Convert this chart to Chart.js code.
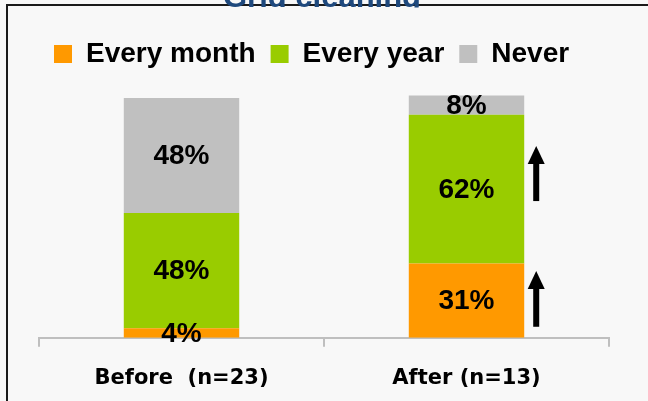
<!DOCTYPE html>
<html>
<head>
<meta charset="utf-8">
<script src="https://cdn.jsdelivr.net/npm/chart.js@4.4.1/dist/chart.umd.min.js"></script>
<style>
  html, body { margin: 0; padding: 0; background: #f8f8f8; }
  #wrap { position: relative; width: 648px; height: 401px; }
</style>
</head>
<body>
<div id="wrap"><canvas id="c" width="648" height="401"></canvas></div>
<script>
const titleText = "Grid cleaning";
const categories = ["Before  (n=23)", "After (n=13)"];
const everyMonth = [4, 31];
const everyYear = [48, 62];
const never = [48, 8];
const seriesNames = ["Every month", "Every year", "Never"];
// arrows: category index and value range (in %)
const arrowCats = [1, 1];
const arrowFrom = [57, 4.6];
const arrowTo = [80, 27.8];

const framePlugin = {
  id: 'frame',
  beforeDraw(chart) {
    const ctx = chart.ctx;
    ctx.save();
    ctx.fillStyle = '#f8f8f8';
    ctx.fillRect(0, 0, chart.width, chart.height);
    ctx.fillStyle = '#1a1a1a';
    ctx.fillRect(6, 4, chart.width - 6, 2);
    ctx.fillRect(6, 4, 2, chart.height - 4);
    // clipped title
    ctx.beginPath();
    ctx.rect(0, 0, chart.width, 7.5);
    ctx.clip();
    ctx.fillStyle = '#1F497D';
    ctx.font = 'bold 31px "Liberation Sans", Arial, sans-serif';
    ctx.textAlign = 'center';
    ctx.textBaseline = 'alphabetic';
    ctx.fillText(titleText, 322, 6.5);
    ctx.restore();
  },
  afterDatasetsDraw(chart) {
    const ctx = chart.ctx;
    ctx.save();
    ctx.fillStyle = '#000';
    ctx.font = 'bold 28px "Liberation Sans", Arial, sans-serif';
    ctx.textAlign = 'center';
    ctx.textBaseline = 'middle';
    chart.data.datasets.forEach((ds, di) => {
      const meta = chart.getDatasetMeta(di);
      meta.data.forEach((el, i) => {
        const p = el.getProps(['x', 'y', 'base'], true);
        ctx.fillText(ds.data[i] + '%', p.x, (p.y + p.base) / 2 + 1);
      });
    });
    // arrows
    const ys = chart.scales.y;
    const meta0 = chart.getDatasetMeta(0);
    arrowCats.forEach((ci, k) => {
      const el = meta0.data[ci];
      const p = el.getProps(['x', 'width'], true);
      const ax = p.x + p.width / 2 + 12;
      const yTop = ys.getPixelForValue(arrowTo[k]);
      const yBot = ys.getPixelForValue(arrowFrom[k]);
      ctx.fillStyle = '#000';
      ctx.fillRect(ax - 3, yTop + 16, 6, yBot - yTop - 16);
      ctx.beginPath();
      ctx.moveTo(ax, yTop);
      ctx.lineTo(ax + 8.5, yTop + 18);
      ctx.lineTo(ax - 8.5, yTop + 18);
      ctx.closePath();
      ctx.fill();
    });
    ctx.restore();
  }
};

new Chart(document.getElementById('c'), {
  type: 'bar',
  data: {
    labels: categories,
    datasets: [
      { label: seriesNames[0], data: everyMonth, backgroundColor: '#FF9900' },
      { label: seriesNames[1], data: everyYear, backgroundColor: '#99CC00' },
      { label: seriesNames[2], data: never, backgroundColor: '#C0C0C0' }
    ]
  },
  options: {
    responsive: false,
    animation: false,
    layout: { padding: { left: 39, right: 39, top: 25, bottom: -9 } },
    datasets: { bar: { categoryPercentage: 1, barPercentage: 0.405 } },
    plugins: {
      title: { display: false },
      tooltip: { enabled: false },
      legend: {
        display: true,
        position: 'top',
        align: 'start',
        labels: {
          boxWidth: 18,
          boxHeight: 18,
          padding: 15,
          color: '#000',
          font: { family: '"Liberation Sans", Arial, sans-serif', size: 28, weight: 'bold' }
        }
      }
    },
    scales: {
      x: {
        stacked: true,
        grid: { display: true, drawOnChartArea: false, drawTicks: true, tickLength: 9, color: '#BFBFBF', lineWidth: 2, offset: true },
        border: { display: true, color: '#BFBFBF', width: 2 },
        ticks: {
          color: '#000',
          padding: 19,
          font: { family: '"DejaVu Sans", sans-serif', size: 21, weight: 'bold' }
        }
      },
      y: {
        stacked: true,
        display: false,
        min: 0,
        max: 108.3
      }
    }
  },
  plugins: [framePlugin]
});
</script>
</body>
</html>
